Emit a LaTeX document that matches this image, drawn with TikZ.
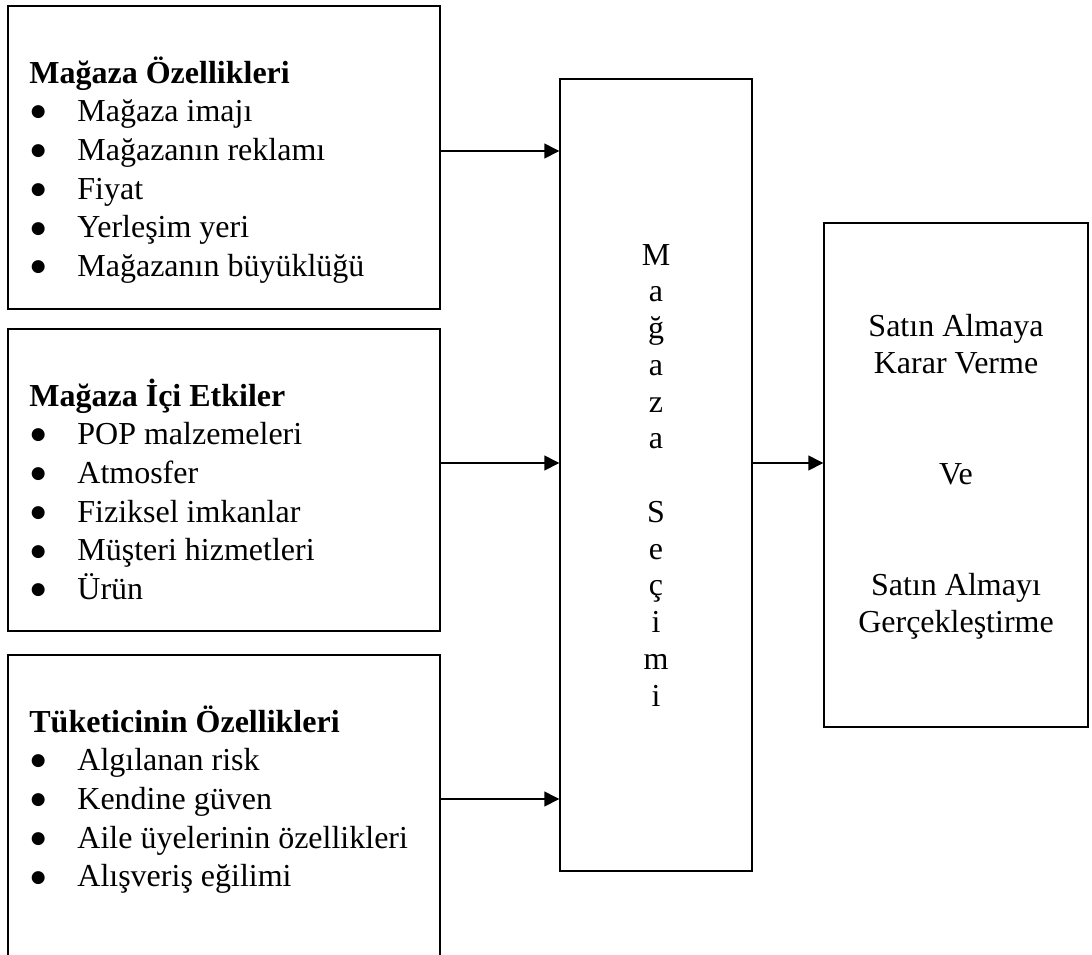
\documentclass[tikz,border=0pt]{standalone}
\usepackage{fontspec}
\setmainfont{Liberation Serif}
\newfontfamily\simge{DejaVu Sans}
\usetikzlibrary{arrows.meta}
\newcommand{\madde}[1]{\makebox[24pt][l]{\hspace{0.8pt}\raisebox{2.4pt}{\simge\fontsize{8.5pt}{0pt}\selectfont ●}}#1}

\begin{document}
\begin{tikzpicture}[x=0.5pt,y=-0.5pt,
    kutu/.style={draw,line width=0.7pt,inner sep=0pt},
    yazi/.style={inner sep=0pt,font=\fontsize{16pt}{19.35pt}\selectfont},
    ok/.style={line width=0.7pt,-{Triangle[length=7.5pt,width=7.5pt]}}]
        \clip (0,0) rectangle (1092,954);
        \node[kutu,minimum width=216pt,minimum height=151.5pt] (ozellik) at (224,157.5) {};
        \node[kutu,minimum width=216pt,minimum height=151pt] (etki) at (224,480) {};
        \node[kutu,minimum width=216pt,minimum height=172.5pt] (tuketici) at (224,827.5) {};
        \node[kutu,minimum width=96pt,minimum height=396pt] (secim) at (656,475) {};
        \node[kutu,minimum width=132pt,minimum height=252pt] (karar) at (956,475) {};
        \node[yazi,anchor=base west] (ozellikyazi) at (29,83) {\parbox[t]{200pt}{\raggedright\textbf{Mağaza Özellikleri}\\\madde{Mağaza imajı}\\\madde{Mağazanın reklamı}\\\madde{Fiyat}\\\madde{Yerleşim yeri}\\\madde{Mağazanın büyüklüğü}}};
        \node[yazi,anchor=base west] (etkiyazi) at (29,406) {\parbox[t]{200pt}{\raggedright\textbf{Mağaza İçi Etkiler}\\\madde{POP malzemeleri}\\\madde{Atmosfer}\\\madde{Fiziksel imkanlar}\\\madde{Müşteri hizmetleri}\\\madde{Ürün}}};
        \node[yazi,anchor=base west] (tuketiciyazi) at (29,732) {\parbox[t]{200pt}{\raggedright\textbf{Tüketicinin Özellikleri}\\\madde{Algılanan risk}\\\madde{Kendine güven}\\\madde{Aile üyelerinin özellikleri}\\\madde{Alışveriş eğilimi}}};
        \node[yazi,anchor=base] (secimyazi) at (656,265) {\parbox[t]{20pt}{\centering\fontsize{16pt}{18.375pt}\selectfont M\\a\\ğ\\a\\z\\a\\\mbox{}\\S\\e\\ç\\i\\m\\i}};
        \node[yazi,anchor=base] (kararyazi) at (956,336) {\parbox[t]{130pt}{\centering\fontsize{16pt}{18.5pt}\selectfont Satın Almaya\\Karar Verme\\\mbox{}\\\mbox{}\\Ve\\\mbox{}\\\mbox{}\\Satın Almayı\\Gerçekleştirme}};
        \draw[ok] (ozellik.east |- 0,151) -- (secim.west |- 0,151);
        \draw[ok] (etki.east |- 0,463) -- (secim.west |- 0,463);
        \draw[ok] (tuketici.east |- 0,799) -- (secim.west |- 0,799);
        \draw[ok] (secim.east |- 0,463) -- (karar.west |- 0,463);
\end{tikzpicture}
\end{document}
